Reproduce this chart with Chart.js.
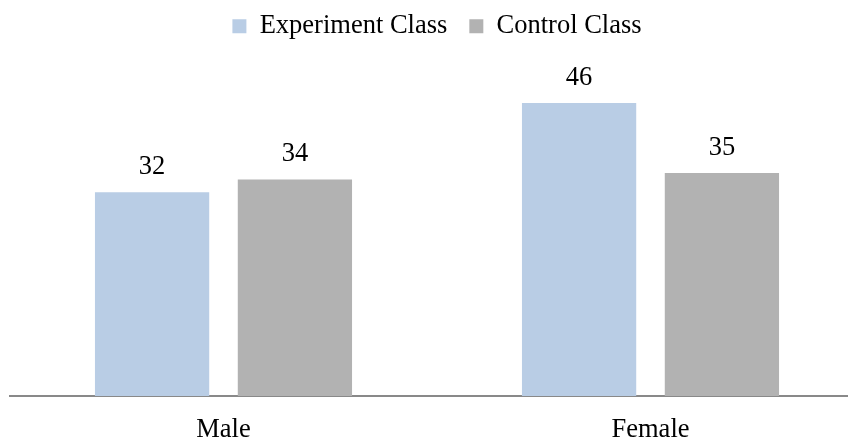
<!DOCTYPE html>
<html>
<head>
<meta charset="utf-8">
<script src="https://cdn.jsdelivr.net/npm/chart.js@4/dist/chart.umd.min.js"></script>
<style>
  html, body { margin: 0; padding: 0; background: #fff; overflow: hidden; }
  .wrap { position: relative; width: 881px; height: 437px; }
</style>
</head>
<body>
<div class="wrap"><canvas id="mainChart"></canvas></div>
<script>
const categories = ['Male', 'Female'];
const experimentValues = [32, 46];
const controlValues = [34, 35];
const seriesNames = ['Experiment Class', 'Control Class'];

const serif = "'Liberation Serif', 'Times New Roman', serif";
const fontSize = 26.5;

// value labels above each bar
const barLabels = {
  id: 'barLabels',
  afterDatasetsDraw(chart) {
    const ctx = chart.ctx;
    ctx.save();
    ctx.font = `${fontSize}px ${serif}`;
    ctx.fillStyle = '#000';
    ctx.textAlign = 'center';
    ctx.textBaseline = 'middle';
    chart.data.datasets.forEach((ds, i) => {
      chart.getDatasetMeta(i).data.forEach((bar, j) => {
        ctx.fillText(ds.data[j], bar.x, bar.y - 25);
      });
    });
    ctx.restore();
  },
};

// extra room between legend and plot area
const legendGap = {
  id: 'legendGap',
  beforeInit(chart) {
    const fit = chart.legend.fit;
    chart.legend.fit = function () {
      fit.call(this);
      this.height += 28;
    };
  },
};

new Chart(document.getElementById('mainChart'), {
  type: 'bar',
  data: {
    labels: categories,
    datasets: [
      { label: seriesNames[0], data: experimentValues, backgroundColor: '#B9CDE5' },
      { label: seriesNames[1], data: controlValues, backgroundColor: '#B2B2B2' },
    ],
  },
  options: {
    responsive: true,
    maintainAspectRatio: false,
    animation: false,
    categoryPercentage: 0.669,
    barPercentage: 0.8,
    layout: { padding: { left: 10, right: 17, top: -9, bottom: 0 } },
    plugins: {
      legend: {
        display: true,
        position: 'top',
        labels: {
          boxWidth: 14,
          boxHeight: 14,
          padding: 22,
          color: '#000',
          font: { family: serif, size: fontSize },
        },
      },
      tooltip: { enabled: false },
    },
    scales: {
      x: {
        grid: { display: false, drawTicks: false },
        border: { display: true, color: '#898989', width: 2 },
        ticks: { color: '#000', padding: 18, font: { family: serif, size: fontSize } },
        afterFit(scale) { scale.height = 41; },
      },
      y: {
        display: false,
        min: 0,
        max: 50,
      },
    },
  },
  plugins: [barLabels, legendGap],
});
</script>
</body>
</html>
